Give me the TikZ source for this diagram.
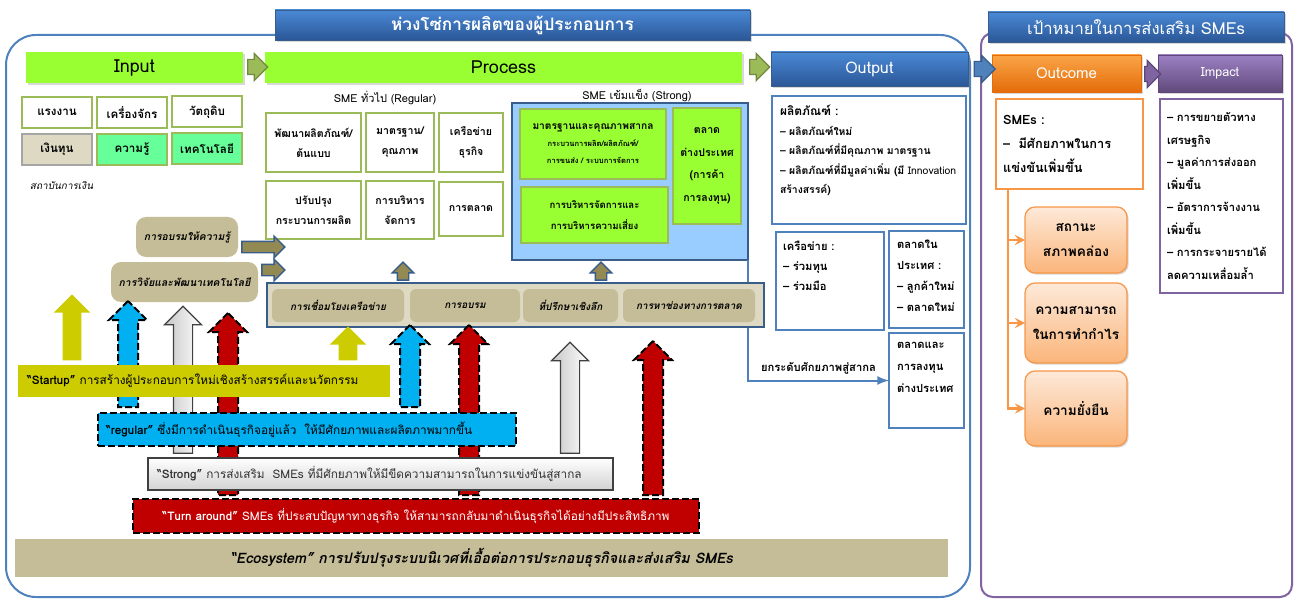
\documentclass[tikz,border=0pt]{standalone}
\usepackage{fontspec}
\setmainfont[Script=Thai]{Loma}
\usetikzlibrary{shapes,arrows,positioning,shadows}

\definecolor{inputgreen}{HTML}{99FF33}
\definecolor{olivegreen}{HTML}{9BBB59}
\definecolor{olivedark}{HTML}{71893F}
\definecolor{mint}{HTML}{66FF99}
\definecolor{sandlight}{HTML}{DDD9C3}
\definecolor{sandfill}{HTML}{C4BD97}
\definecolor{greybox}{HTML}{A5A5A5}
\definecolor{skyfill}{HTML}{99CCFF}
\definecolor{bluedark}{HTML}{385D8A}
\definecolor{blueline}{HTML}{4F81BD}
\definecolor{olivefill}{HTML}{938953}
\definecolor{baryellow}{HTML}{CCCC00}
\definecolor{barcyan}{HTML}{00B0F0}
\definecolor{barred}{HTML}{C00000}
\definecolor{orangeline}{HTML}{F79646}
\definecolor{orangetop}{HTML}{FAA547}
\definecolor{orangebot}{HTML}{E46C0A}
\definecolor{purpleline}{HTML}{8064A2}
\definecolor{purpletop}{HTML}{9C80C4}
\definecolor{purplebot}{HTML}{604A7B}
\definecolor{purpledark}{HTML}{5C4776}
\definecolor{titletop}{HTML}{4A89D6}
\definecolor{titlebot}{HTML}{2B5797}
\definecolor{peachtop}{HTML}{FDE9D9}
\definecolor{peachbot}{HTML}{FBB57A}

\begin{document}
\begin{tikzpicture}[
  x=0.5pt, y=-0.5pt,
  every node/.style={inner sep=0pt, outer sep=0pt},
  softshadow/.style={drop shadow={shadow xshift=0.8pt, shadow yshift=-0.8pt, opacity=0.3}},
  frame/.style={rectangle, line width=1pt},
  titlebox/.style={
    rectangle,
    minimum height=15pt,
    top color=titletop,
    bottom color=titlebot,
    draw=bluedark,
    line width=0.4pt,
    text=white,
    softshadow
  },
  greenhead/.style={
    rectangle,
    fill=inputgreen,
    minimum height=15.5pt,
    font=\fontsize{9}{10}\selectfont,
    softshadow
  },
  fatarrow/.style={
    single arrow,
    minimum width=13pt,
    inner ysep=3.5pt,
    single arrow head extend=3pt,
    line width=0.6pt
  },
  inbox/.style={
    rectangle,
    draw=olivegreen,
    line width=1pt,
    fill=white,
    minimum width=35pt,
    minimum height=15.5pt,
    font=\bfseries\fontsize{5.8}{7}\selectfont
  },
  regbox/.style={
    rectangle,
    draw=olivegreen,
    line width=1pt,
    fill=white,
    align=center,
    font=\bfseries\fontsize{5.3}{10}\selectfont
  },
  strongin/.style={
    rectangle,
    draw=olivegreen,
    line width=1.2pt,
    fill=inputgreen,
    align=center,
    font=\bfseries\fontsize{4.8}{10.5}\selectfont
  },
  supitem/.style={
    rectangle,
    rounded corners=3pt,
    fill=sandfill,
    minimum height=16.5pt,
    font=\bfseries\itshape\fontsize{5}{7}\selectfont
  },
  trainbox/.style={
    rectangle,
    rounded corners=5pt,
    fill=sandfill,
    minimum height=20pt,
    font=\bfseries\itshape\fontsize{5.2}{7}\selectfont
  },
  olivearrow/.style={
    single arrow,
    fill=olivefill,
    draw=bluedark,
    line width=0.7pt,
    minimum width=10pt,
    inner ysep=2.5pt,
    single arrow head extend=2.5pt
  },
  outbox/.style={rectangle, draw=blueline, line width=1.1pt, fill=white},
  outtxt/.style={align=left, font=\bfseries\fontsize{5.6}{10}\selectfont},
  goalbox/.style={
    rectangle,
    rounded corners=5pt,
    draw=orangeline,
    line width=0.6pt,
    top color=peachtop,
    bottom color=peachbot,
    minimum width=51pt,
    align=center,
    font=\bfseries\fontsize{6.8}{12.5}\selectfont,
    softshadow
  },
  bigup/.style={
    single arrow,
    rotate=90,
    minimum width=18pt,
    inner ysep=4.5pt,
    single arrow head extend=4.5pt
  },
  yelup/.style={fill=baryellow},
  cyanup/.style={fill=barcyan, draw=black, line width=1pt, dash pattern=on 3.5pt off 1.5pt},
  redup/.style={fill=barred, draw=black, line width=1pt, dash pattern=on 3.5pt off 1.5pt},
  greyup/.style={left color=gray!45, right color=white, draw=darkgray, line width=0.6pt},
  levelbar/.style={
    rectangle,
    align=left,
    minimum height=16pt,
    font=\fontsize{5.9}{8}\selectfont
  }
]

\path[fill=white, use as bounding box] (0,0) rectangle (1297,599);

% --- FRAMES -------------------------------------------------------
\node[frame, draw=blueline, rounded corners=15pt, minimum width=482pt, minimum height=281pt] (chain) at (488,316) {};
\node[frame, draw=purpleline, rounded corners=6pt, minimum width=155.5pt, minimum height=282pt] (goal) at (1136.5,315) {};

\node[titlebox, minimum width=237.5pt, font=\bfseries\fontsize{8.6}{11}\selectfont] (chaintitle) at (512.5,25) {ห่วงโซ่การผลิตของผู้ประกอบการ};
\node[titlebox, minimum width=148pt, font=\fontsize{8.3}{11}\selectfont] (goaltitle) at (1136,27) {เป้าหมายในการส่งเสริม SMEs};

% --- HEADERS ------------------------------------------------------
\node[greenhead, minimum width=108.5pt] (input) at (134.5,67.5) {Input};
\node[greenhead, minimum width=238.5pt] (process) at (503.5,67.5) {Process};
\node[titlebox, minimum width=98.5pt, minimum height=17pt, font=\fontsize{8}{10}\selectfont] (output) at (869.5,69) {Output};
\node[titlebox, top color=orangetop, bottom color=orangebot, draw=orangebot, minimum width=74.5pt, minimum height=18.5pt, font=\fontsize{7.5}{10}\selectfont] (outcome) at (1066.5,73.5) {Outcome};
\node[titlebox, top color=purpletop, bottom color=purplebot, draw=purpledark, minimum width=62pt, minimum height=18.5pt, font=\fontsize{6.3}{10}\selectfont] (impact) at (1220,73.5) {Impact};

\node[fatarrow, fill=olivegreen, draw=olivedark, minimum height=10pt] (inproc) at (254,67) {};
\node[fatarrow, fill=olivegreen, draw=olivedark, minimum height=10pt] (procout) at (756,67) {};
\node[fatarrow, fill=blueline, draw=bluedark, minimum height=10.5pt] (outgoal) at (981,69) {};
\node[fatarrow, fill=purpleline, draw=purpledark, minimum height=8pt] (outimp) at (1149,74) {};

% --- INPUT --------------------------------------------------------
\node[inbox] (labour) at (57,112.5) {แรงงาน};
\node[inbox] (machine) at (132,112.5) {เครื่องจักร};
\node[inbox] (material) at (207,112) {วัตถุดิบ};
\node[inbox, fill=sandlight, draw=greybox] (capital) at (57,149.5) {เงินทุน};
\node[inbox, fill=mint] (knowhow) at (132,149.5) {ความรู้};
\node[inbox, fill=mint] (tech) at (207,149) {เทคโนโลยี};
\node[anchor=west, font=\itshape\fontsize{5}{6}\selectfont] (bank) at (30,186) {สถาบันการเงิน};

% --- PROCESS: SME REGULAR -----------------------------------------
\node[font=\fontsize{5.5}{7}\selectfont] (regtitle) at (385,98) {SME ทั่วไป (Regular)};
\node[regbox, minimum width=47.5pt, minimum height=29.5pt] (proddev) at (313.5,142.5) {พัฒนาผลิตภัณฑ์/\\ต้นแบบ};
\node[regbox, minimum width=34pt, minimum height=29.5pt] (std) at (400,142.5) {มาตรฐาน/\\คุณภาพ};
\node[regbox, minimum width=32pt, minimum height=29.5pt] (biznet) at (471,142.5) {เครือข่าย\\ธุรกิจ};
\node[regbox, minimum width=47.5pt, minimum height=29pt] (procimp) at (313.5,210) {ปรับปรุง\\กระบวนการผลิต};
\node[regbox, minimum width=34pt, minimum height=29pt] (mgmt) at (400,210) {การบริหาร\\จัดการ};
\node[regbox, minimum width=32pt, minimum height=27pt] (mkt) at (471,209) {การตลาด};

% --- PROCESS: SME STRONG ------------------------------------------
\node[font=\fontsize{5.5}{7}\selectfont] (strtitle) at (637,96) {SME เข้มแข็ง (Strong)};
\node[rectangle, fill=skyfill, draw=bluedark, line width=1.2pt, minimum width=118pt, minimum height=78.5pt] (strong) at (630,181.5) {};
\node[strongin, minimum width=73pt, minimum height=35pt, font=\bfseries\fontsize{3.8}{8.5}\selectfont] (intstd) at (593,144) {{\fontsize{5.1}{8.5}\selectfont มาตรฐานและคุณภาพสากล}\\กระบวนการผลิต/ผลิตภัณฑ์/\\การขนส่ง / ระบบการจัดการ};
\node[strongin, minimum width=73.5pt, minimum height=28pt] (risk) at (594.5,215) {การบริหารจัดการและ\\การบริหารความเสี่ยง};
\node[strongin, minimum width=34pt, minimum height=58pt, font=\bfseries\fontsize{5.3}{11.25}\selectfont] (abroad) at (707,166) {ตลาด\\ต่างประเทศ\\(การค้า\\การลงทุน)};

% --- OUTPUT -------------------------------------------------------
\node[outbox, minimum width=97pt, minimum height=64pt] (product) at (869,160) {};
\node[outtxt, below right=4.5pt and 4pt of product.north west, font=\bfseries\fontsize{5.2}{9.75}\selectfont] (producttxt) {{\fontsize{6}{9.75}\selectfont ผลิตภัณฑ์ :}\\– ผลิตภัณฑ์ใหม่\\– ผลิตภัณฑ์ที่มีคุณภาพ มาตรฐาน\\– ผลิตภัณฑ์ที่มีมูลค่าเพิ่ม (มี {\mdseries Innovation}\\สร้างสรรค์)};
\node[outbox, minimum width=54pt, minimum height=49pt] (network) at (830,281) {};
\node[outtxt, below right=4.5pt and 3.5pt of network.north west] (networktxt) {เครือข่าย :\\– ร่วมทุน\\– ร่วมมือ};
\node[outbox, minimum width=37.5pt, minimum height=48.5pt] (domestic) at (926.5,279.5) {};
\node[outtxt, below right=4.5pt and 4pt of domestic.north west, font=\bfseries\fontsize{5.6}{10.5}\selectfont] (domestictxt) {ตลาดใน\\ประเทศ :\\– ลูกค้าใหม่\\– ตลาดใหม่};
\node[outbox, minimum width=37.5pt, minimum height=47.5pt] (foreign) at (926.5,380.5) {};
\node[outtxt, below right=4.5pt and 4pt of foreign.north west, font=\bfseries\fontsize{5.6}{11}\selectfont] (foreigntxt) {ตลาดและ\\การลงทุน\\ต่างประเทศ};

\draw[blueline, line width=1pt, -latex] (strong.south east) |- node[pos=0.75, above=3pt, text=black, font=\bfseries\fontsize{5.6}{7}\selectfont] (upgrade) {ยกระดับศักยภาพสู่สากล} (foreign.west);

% --- SUPPORT ------------------------------------------------------
\node[rectangle, fill=sandlight, draw=bluedark, line width=1.2pt, minimum width=248.5pt, minimum height=22pt] (support) at (515.5,305) {};
\node[supitem, minimum width=66pt] (linkage) at (338,305.5) {การเชื่อมโยงเครือข่าย};
\node[supitem, minimum width=55pt] (training) at (465,305.5) {การอบรม};
\node[supitem, minimum width=47.5pt] (advice) at (570.5,305.5) {ที่ปรึกษาเชิงลึก};
\node[supitem, minimum width=66pt] (channel) at (689,305.5) {การหาช่องทางการตลาด};

\node[olivearrow, rotate=90, minimum height=9pt] (upreg) at (403,274) {};
\node[olivearrow, rotate=90, minimum height=9pt] (upstr) at (601,274) {};

\node[trainbox, minimum width=51pt] (teach) at (187,237) {การอบรมให้ความรู้};
\node[trainbox, minimum width=73.5pt] (rnd) at (184.5,282) {การวิจัยและพัฒนาเทคโนโลยี};
\node[olivearrow, minimum height=21.5pt] (teacharr) at (260.5,247) {};
\node[olivearrow, minimum height=11.5pt] (rndarr) at (270.5,270) {};

% --- LEVELS -------------------------------------------------------
\foreach \cx/\tip/\base/\kind in {72/299/365/yelup, 128/306/412/cyanup, 183/311/458/greyup, 228/318/500/redup,
  348/331/365/yelup, 410/330/412/cyanup, 469/330/500/redup, 570/347/458/greyup, 653/346/500/redup}
  \node[bigup, \kind, minimum height={(\base-\tip)*0.5pt}] (lift\cx) at (\cx,{(\tip+\base)/2}) {};

\node[levelbar, fill=baryellow, inner xsep=4.5pt, text width=177pt] (startup) at (204,381) {\mbox{\textbf{“Startup”} การสร้างผู้ประกอบการใหม่เชิงสร้างสรรค์และนวัตกรรม}};
\node[levelbar, fill=barcyan, draw=black, line width=1pt, dash pattern=on 3.5pt off 1.5pt, minimum height=16.5pt, inner xsep=4pt, text width=201pt] (regular) at (307,429.5) {\mbox{\textbf{“regular”} ซึ่งมีการดำเนินธุรกิจอยู่แล้ว~~ให้มีศักยภาพและผลิตภาพมากขึ้น}};
\node[levelbar, top color=white, bottom color=gray!35, draw=darkgray, line width=0.6pt, inner xsep=4.5pt, text width=223.5pt, text=black!80] (strongbar) at (380.5,474) {\mbox{\textbf{“Strong”} การส่งเสริม~~SMEs ที่มีศักยภาพให้มีขีดความสามารถในการแข่งขันสู่สากล}};
\node[levelbar, align=center, fill=barred, draw=black, line width=1pt, dash pattern=on 3.5pt off 1.5pt, minimum width=283pt, minimum height=17pt, text=white] (turnaround) at (416,516) {\textbf{“Turn around”} SMEs ที่ประสบปัญหาทางธุรกิจ ให้สามารถกลับมาดำเนินธุรกิจได้อย่างมีประสิทธิภาพ};
\node[levelbar, align=center, fill=sandfill, minimum width=466.5pt, minimum height=19pt, font=\bfseries\itshape\fontsize{7.2}{9}\selectfont] (ecosystem) at (481.5,558) {“Ecosystem” การปรับปรุงระบบนิเวศที่เอื้อต่อการประกอบธุรกิจและส่งเสริม SMEs};

% --- OUTCOME ------------------------------------------------------
\node[rectangle, draw=orangeline, line width=1.2pt, fill=white, align=left, inner xsep=3.5pt, text width=66.5pt, minimum height=45pt, font=\bfseries\fontsize{6.4}{12}\selectfont] (outtext) at (1069.5,144) {SMEs :\\–~~มีศักยภาพในการ\\แข่งขันเพิ่มขึ้น};
\coordinate (trunk) at (1008,189);
\node[goalbox, minimum height=33pt] (liquidity) at (1076,240) {สถานะ\\สภาพคล่อง};
\node[goalbox, minimum height=40pt] (profit) at (1076,323) {ความสามารถ\\ในการทำกำไร};
\node[goalbox, minimum height=37.5pt] (sustain) at (1076,408.5) {ความยั่งยืน};
\draw[orangeline, line width=1.2pt, -stealth] (trunk) |- (liquidity.west);
\draw[orangeline, line width=1.2pt, -stealth] (trunk) |- (profit.west);
\draw[orangeline, line width=1.2pt, -stealth] (trunk) |- (sustain.west);

% --- IMPACT -------------------------------------------------------
\node[rectangle, draw=purpleline, line width=1.2pt, fill=white, align=left, inner xsep=3.5pt, text width=54.5pt, minimum height=97pt, font=\bfseries\fontsize{5.6}{11.25}\selectfont] (impacttxt) at (1221.5,196) {– การขยายตัวทาง\\เศรษฐกิจ\\– มูลค่าการส่งออก\\เพิ่มขึ้น\\– อัตราการจ้างงาน\\เพิ่มขึ้น\\– การกระจายรายได้\\ลดความเหลื่อมล้ำ};

\end{tikzpicture}
\end{document}
